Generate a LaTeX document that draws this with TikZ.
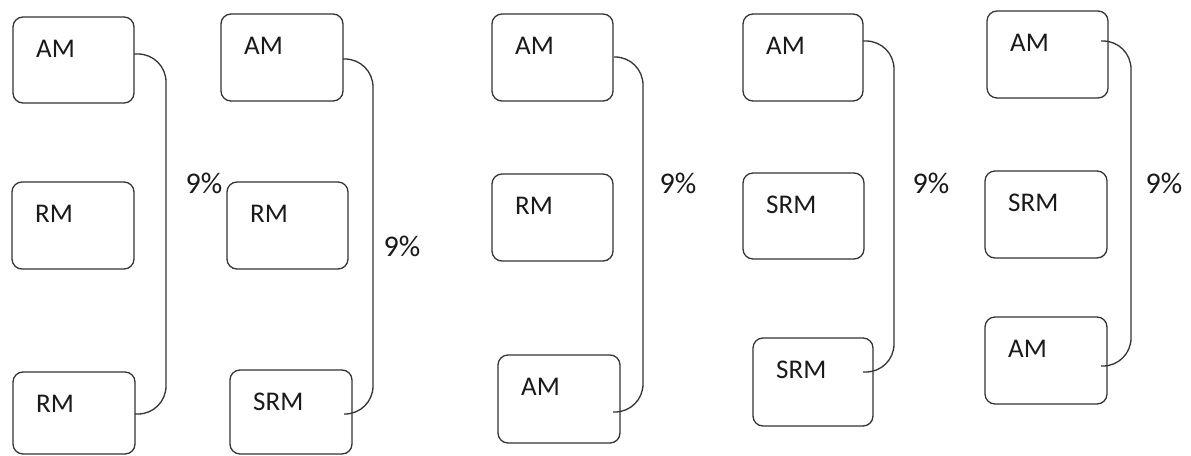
\documentclass[tikz,border=0pt]{standalone}
\usepackage{fontspec}
\setmainfont{Carlito}
\usetikzlibrary{calc}
\definecolor{ln}{HTML}{333333}
\definecolor{tx}{HTML}{1A1A1A}
\tikzset{
  mbox/.style={draw=ln, line width=1.3pt, rounded corners=10pt, anchor=north west, inner sep=0pt, outer sep=0pt},
  btxt/.style={text=tx, font=\fontsize{27}{30}\selectfont, anchor=base west, inner sep=0pt},
  pct/.style={text=tx, font=\fontsize{30}{33}\selectfont, inner sep=0pt},
  conn/.style={draw=ln, line width=1.3pt, rounded corners=28pt},
}
\newcommand{\mybox}[6]{%
  \node[mbox, minimum width={(#4-#2)*1pt}, minimum height={(#5-#3)*1pt}] (#1) at (#2,#3) {};
  \node[btxt] (#1t) at ($(#1.north west)+(23,40)$) {#6};
}
\newcommand{\myconn}[8]{% name, sx, sy, vx, ex, ey, label x, label y
  \coordinate (#1s) at (#2,#3);
  \coordinate (#1v) at (#4,0);
  \coordinate (#1e) at (#5,#6);
  \draw[conn] (#1s) -- (#1s -| #1v) -- (#1e -| #1v) -- (#1e);
  \node[pct] (#1p) at (#7,#8) {9\%};
}
\begin{document}
\begin{tikzpicture}[x=1pt,y=-1pt]
\useasboundingbox (0,0) rectangle (1191,455);
\fill[white] (0,0) rectangle (1191,455);
% column 1
\mybox{a1}{13}{17}{134}{103}{AM}
\mybox{b1}{12}{182}{134}{269}{RM}
\mybox{c1}{13}{372}{135}{454}{RM}
\myconn{k1}{134}{54}{166}{135}{414}{204}{183}
% column 2
\mybox{a2}{221}{14}{343}{101}{AM}
\mybox{b2}{227}{182}{348}{269}{RM}
\mybox{c2}{230}{370}{352}{454}{SRM}
\myconn{k2}{343}{59}{373}{344}{414}{402}{246}
% column 3
\mybox{a3}{492}{14}{613}{101}{AM}
\mybox{b3}{492}{174}{613}{261}{RM}
\mybox{c3}{498}{355}{620}{443}{AM}
\myconn{k3}{614}{57}{643}{613}{412}{678}{183}
% column 4
\mybox{a4}{743}{14}{863}{101}{AM}
\mybox{b4}{743}{173}{864}{259}{SRM}
\mybox{c4}{753}{338}{873}{426}{SRM}
\myconn{k4}{863}{41}{894}{863}{372}{931}{183}
% column 5
\mybox{a5}{987}{11}{1108}{98}{AM}
\mybox{b5}{985}{171}{1107}{258}{SRM}
\mybox{c5}{985}{317}{1107}{404}{AM}
\myconn{k5}{1101}{41}{1131}{1101}{366}{1164}{183}
\end{tikzpicture}
\end{document}
